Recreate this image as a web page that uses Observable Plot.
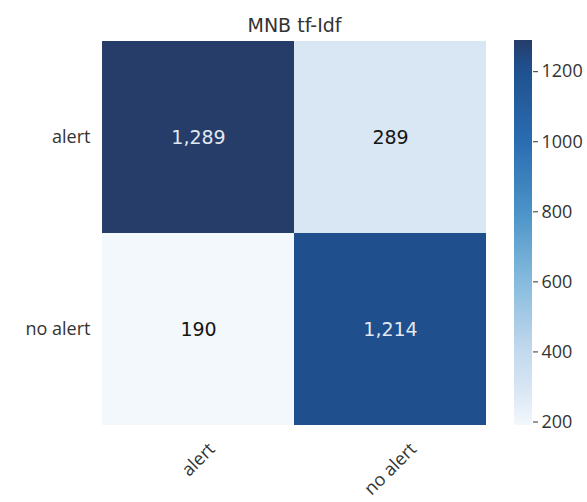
<!DOCTYPE html>
<html>
<head>
<meta charset="utf-8">
<script src="https://cdn.jsdelivr.net/npm/d3@7"></script>
<script src="https://cdn.jsdelivr.net/npm/@observablehq/plot@0.6"></script>
<style>
  html, body { margin: 0; padding: 0; background: #ffffff; }
  #wrap { position: relative; width: 587px; height: 502px; overflow: hidden; }
  #main, #bar { position: absolute; top: 0; }
  #main { left: 0; }
  #bar { left: 500px; }
</style>
</head>
<body>
<div id="wrap"><div id="main"></div><div id="bar"></div></div>
<script>
const title = "MNB tf-Idf";
const classes = ["alert", "no alert"];
const actual = ["alert", "alert", "no alert", "no alert"];
const predicted = ["alert", "no alert", "alert", "no alert"];
const counts = [1289, 289, 190, 1214];
const colorTicks = [200, 400, 600, 800, 1000, 1200];
const colorStops = [190, 289, 400, 600, 800, 1000, 1214, 1289];
const colorRange = ["#f3f8fc", "#d9e6f4", "#c3d9ed", "#86bbdd", "#4a93c8", "#2a6db0", "#1f4f8c", "#263d6a"];

const data = counts.map((v, i) => ({actual: actual[i], predicted: predicted[i], value: v}));
const colorScale = {type: "linear", domain: colorStops, range: colorRange, interpolate: "rgb"};
const fmt = d3.format(",");

const tickFont = "'Open Sans', sans-serif";
const tickSize = 18;
// measure label widths so rotated labels can be centred like matplotlib (ha="center")
const ctx = document.createElement("canvas").getContext("2d");
ctx.font = `${tickSize}px 'Open Sans'`;
const xLabelMarks = classes.map(c => {
  const w = ctx.measureText(c).width;
  const half = (w + 10) * Math.SQRT1_2 / 2;
  return Plot.text([c], {
    x: d => d, frameAnchor: "bottom", dy: 17 + half, rotate: -45,
    textAnchor: "middle", lineAnchor: "middle", text: d => d,
    fontSize: tickSize, fontFamily: tickFont, fill: "#333"
  });
});

const main = Plot.plot({
  width: 587,
  height: 502,
  marginLeft: 102,
  marginRight: 101,
  marginTop: 40,
  marginBottom: 77,
  style: {fontFamily: tickFont, fontSize: tickSize + "px", color: "#333", background: "transparent", overflow: "visible"},
  x: {domain: classes, padding: 0, axis: null},
  y: {domain: classes, padding: 0, tickSize: 0, tickPadding: 12, label: null},
  color: colorScale,
  marks: [
    Plot.cell(data, {x: "predicted", y: "actual", fill: "value", inset: 0}),
    Plot.text(data, {
      x: "predicted", y: "actual", text: d => fmt(d.value),
      fill: d => d.value > 700 ? "#e2e8f1" : "#151515",
      fontSize: 19, fontFamily: "'DejaVu Sans', sans-serif"
    }),
    ...xLabelMarks,
    Plot.text([title], {frameAnchor: "top", lineAnchor: "top", dy: -22, text: d => d, fontSize: 19,
      fontFamily: "'DejaVu Sans', sans-serif", fill: "#333"})
  ]
});
document.getElementById("main").appendChild(main);

const step = 2;
const bands = d3.range(colorStops[0], colorStops[colorStops.length - 1], step);
const bar = Plot.plot({
  width: 87,
  height: 502,
  marginLeft: 14,
  marginRight: 55,
  marginTop: 40,
  marginBottom: 77,
  style: {fontFamily: tickFont, fontSize: tickSize + "px", color: "#333", background: "transparent", overflow: "visible"},
  x: {domain: [0, 1], axis: null},
  y: {domain: [colorStops[0], colorStops[colorStops.length - 1]], ticks: colorTicks, tickFormat: d => String(d), tickSize: 5, tickPadding: 4, label: null, axis: "right"},
  color: colorScale,
  marks: [
    Plot.rect(bands, {x1: 0, x2: 1, y1: d => d, y2: d => Math.min(d + step + 0.5, colorStops[colorStops.length - 1]), fill: d => d + step / 2, inset: 0, shapeRendering: "crispEdges"})
  ]
});
document.getElementById("bar").appendChild(bar);
</script>
</body>
</html>
